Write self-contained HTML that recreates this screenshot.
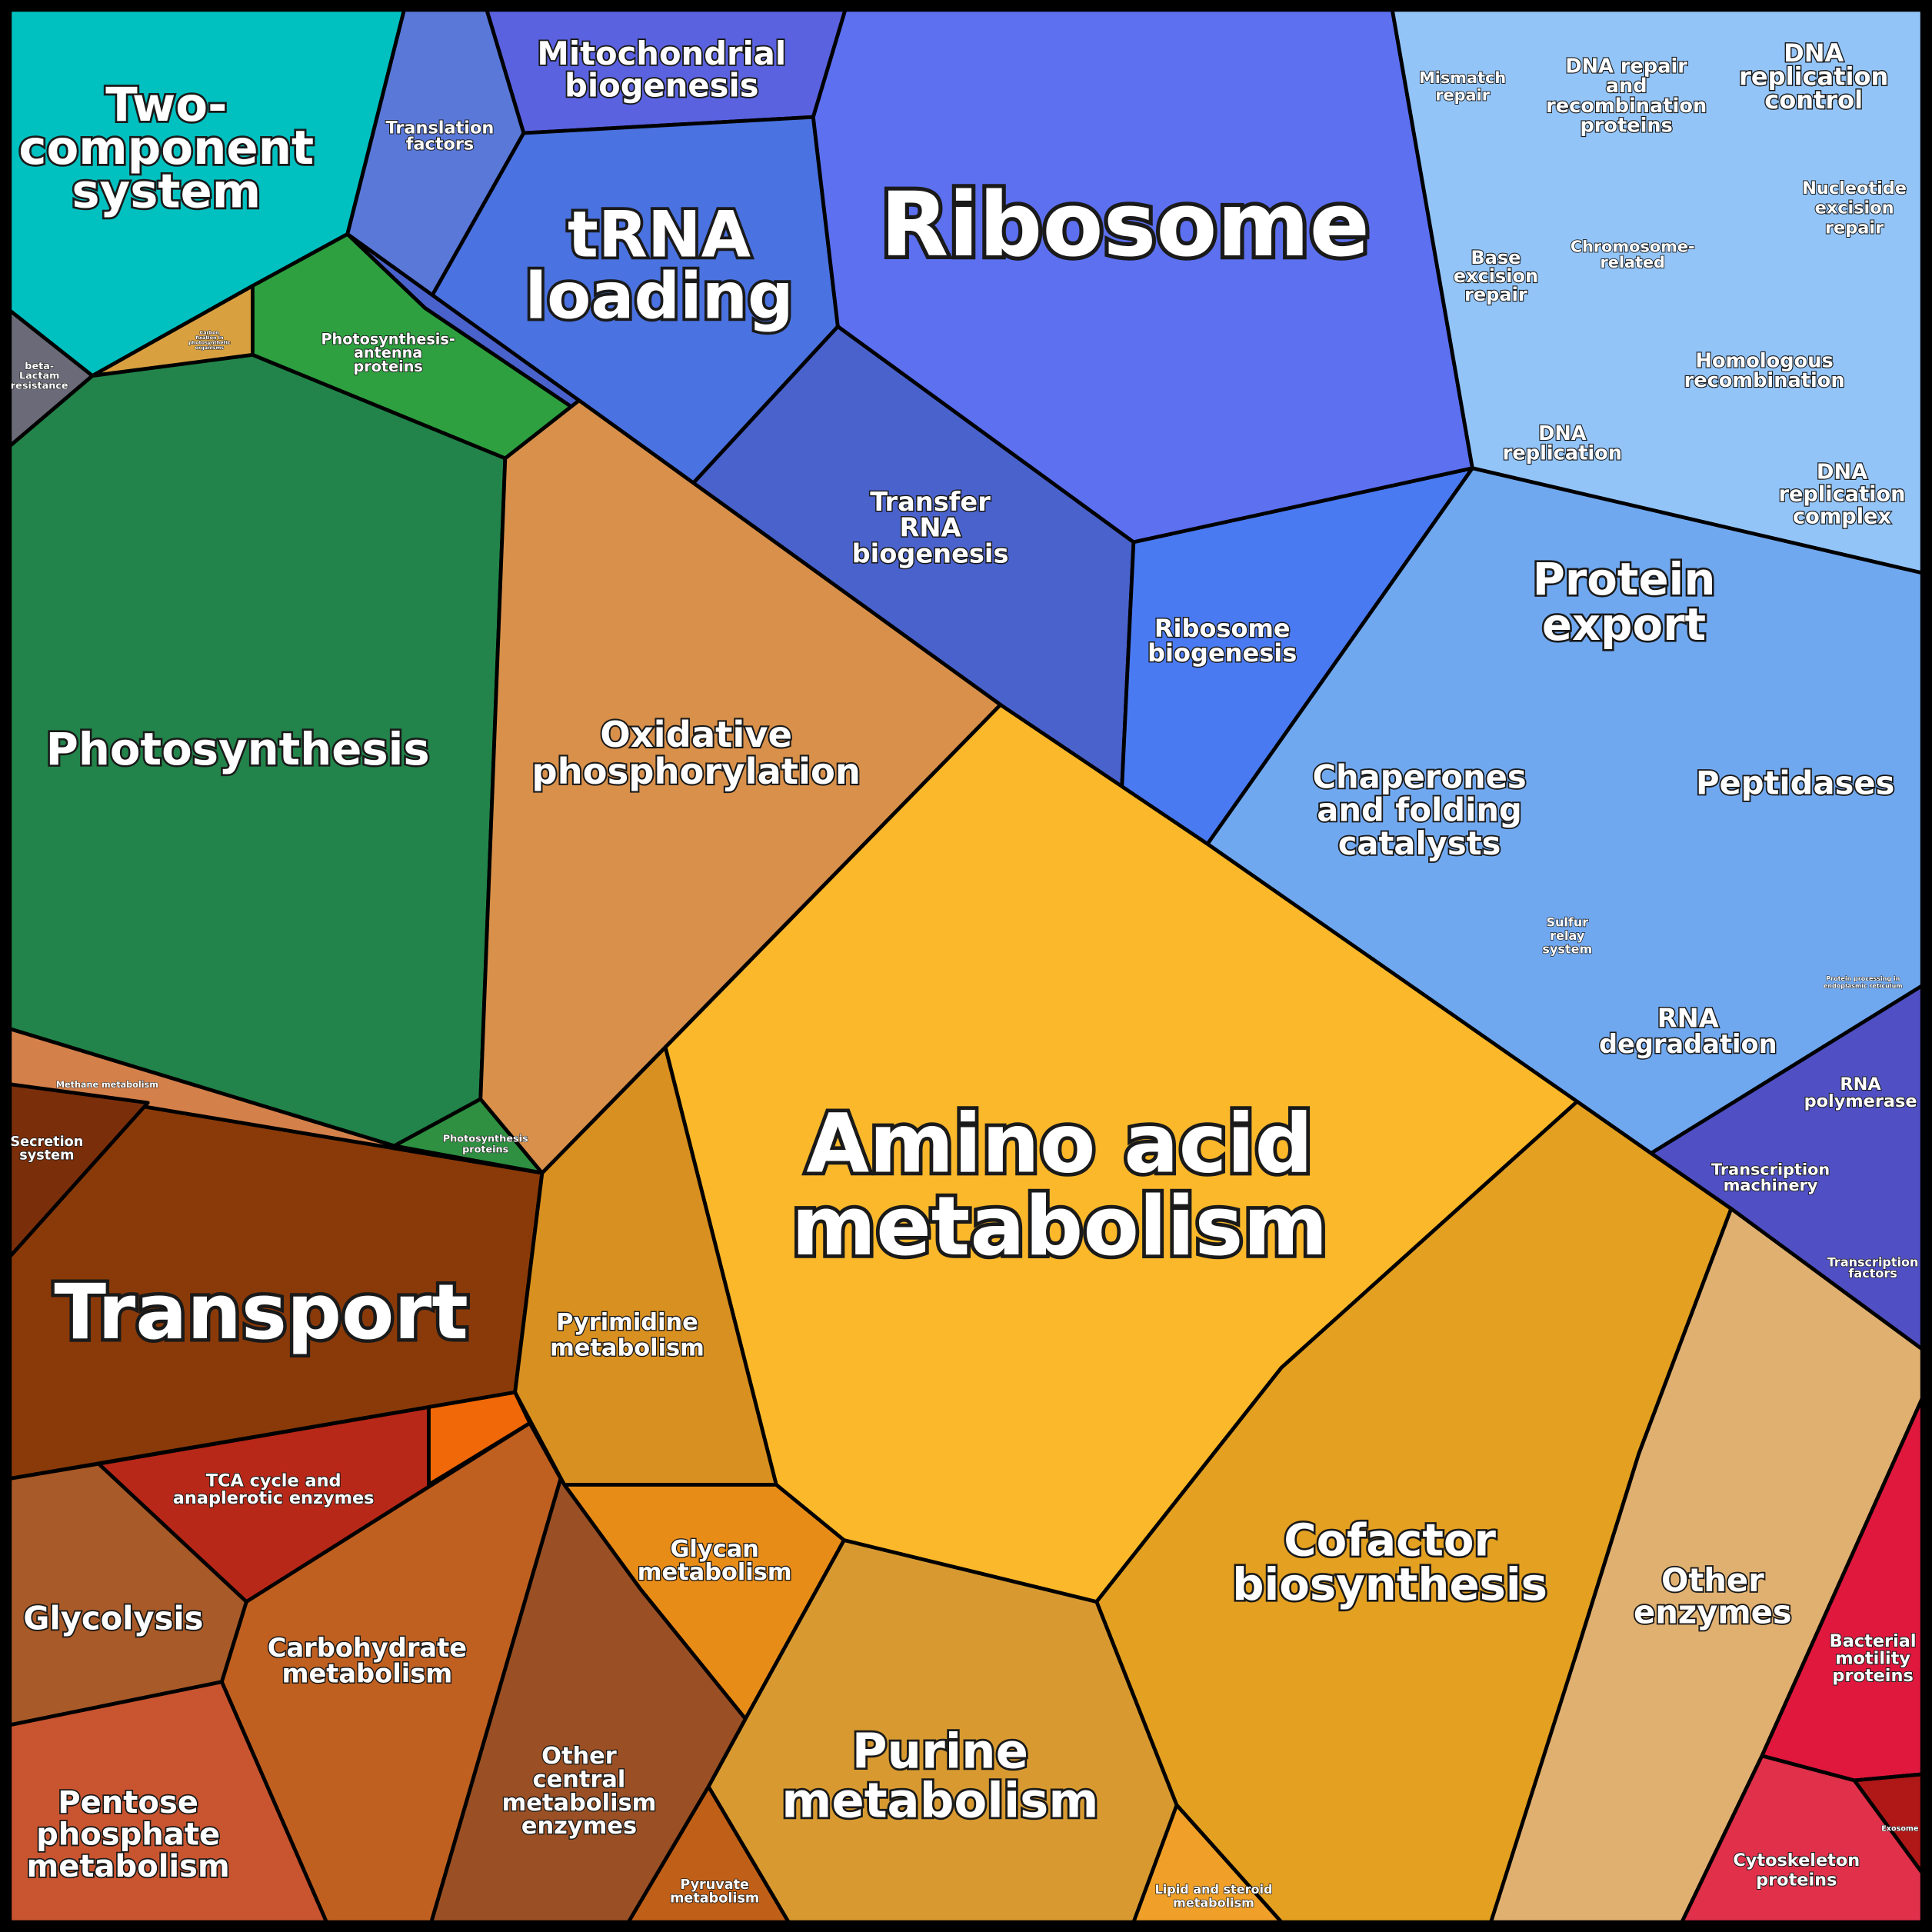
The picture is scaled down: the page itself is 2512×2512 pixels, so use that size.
<!DOCTYPE html>
<html><head><meta charset="utf-8"><style>
html,body{margin:0;padding:0;background:#000;}
svg{display:block;}
text{font-family:"DejaVu Sans","Liberation Sans",sans-serif;font-weight:bold;fill:#fff;paint-order:stroke;stroke:#1a1a1a;text-anchor:middle;dominant-baseline:central;}
</style></head><body>
<svg id="chart" width="2512" height="2512" viewBox="0 0 1568 1568" xmlns="http://www.w3.org/2000/svg">
<rect x="0" y="0" width="1568" height="1568" fill="#000"/>
<g id="cells"></g><g id="labels"></g>
</svg>
<script>
const categories = ["two-component","beta-lactam","carbon-fixation","photosynthesis-antenna","photosynthesis","photosynthesis-proteins","methane","transport","secretion","mito-biogenesis","translation-factors","trna-loading","ribosome","transfer-rna","ribosome-biogenesis","oxidative-phos","dna-block","chaperones","transcription","amino-acid","cofactor","other-enzymes","bacterial-motility","cytoskeleton","exosome","pyrimidine","glycan","purine","lipid","pyruvate","other-central","tca","tca-sliver","glycolysis","carbohydrate","pentose"];
const colors = ["#00c0c0","#6a6a78","#d9a040","#2ea040","#22844a","#2e9040","#d4804a","#8a3a08","#7a2e0a","#5a62e0","#5a78d8","#4a72e0","#5c70f0","#4a62cc","#4a7af2","#d8904a","#92c4f8","#70a8f0","#5050c4","#fbb82a","#e4a020","#e0b070","#e0183e","#e0304a","#b01818","#d89020","#e88c18","#d89a30","#f0a028","#c06018","#9a5024","#b82818","#f06808","#a85a28","#c06020","#c85530"];
const outlines = [
"8,8 328,8 282,190 205,232 75,305 8,252",
"8,252 75,305 8,362",
"75,305 205,232 205,288",
"205,232 282,190 470,325 410,372 205,288",
"8,362 75,305 205,288 410,372 390,892 320,930 8,835",
"320,930 390,892 440,952",
"8,835 320,930 440,952 8,880",
"8,880 440,952 418,1130 8,1200",
"8,880 120,895 8,1020",
"328,8 686,8 660,95 425,108 395,8",
"328,8 395,8 425,108 345,250 282,190",
"425,108 660,95 680,265 560,395 345,250",
"686,8 1130,8 1195,380 920,440 680,265 660,95",
"345,250 560,395 680,265 920,440 910,650 812,572 470,325 282,190",
"920,440 1195,380 980,685 910,650",
"410,372 470,325 812,572 440,952 390,892",
"1130,8 1560,8 1560,465 1195,380",
"1195,380 1560,465 1560,800 1340,936 980,685",
"1340,936 1560,800 1560,1095 1405,981",
"812,572 980,685 1280,894 1040,1110 890,1300 685,1250 630,1205 540,850",
"1280,894 1340,936 1405,981 1330,1180 1280,1340 1230,1560 1040,1560 955,1465 890,1300 1040,1110",
"1405,981 1560,1095 1560,1135 1430,1425 1365,1560 1210,1560 1280,1340 1330,1180",
"1560,1135 1560,1440 1505,1445 1430,1425",
"1430,1425 1505,1445 1560,1440 1560,1560 1365,1560",
"1505,1445 1560,1440 1560,1520",
"540,850 630,1205 458,1205 418,1130 440,952",
"458,1205 630,1205 685,1250 605,1395 520,1290",
"685,1250 890,1300 955,1465 990,1560 640,1560 575,1450 605,1395",
"955,1465 1040,1560 920,1560",
"575,1450 640,1560 510,1560",
"430,1155 458,1205 520,1290 605,1395 575,1450 510,1560 350,1560 455,1200",
"80,1188 418,1130 430,1155 200,1300",
"348,1142 418,1130 430,1155 348,1205",
"8,1200 80,1188 200,1300 180,1365 8,1400",
"200,1300 430,1155 455,1200 350,1560 265,1560 180,1365",
"8,1400 180,1365 265,1560 8,1560"];
const labelText = [
["Two-","component","system"],["Mitochondrial","biogenesis"],["Translation","factors"],["tRNA","loading"],["Ribosome"],
["Mismatch","repair"],["DNA repair","and","recombination","proteins"],["DNA","replication","control"],["Nucleotide","excision","repair"],
["Base","excision","repair"],["Chromosome-","related"],["Homologous","recombination"],["DNA","replication"],["DNA","replication","complex"],
["Protein","export"],["Peptidases"],["Chaperones","and folding","catalysts"],["Transfer","RNA","biogenesis"],["Ribosome","biogenesis"],
["Photosynthesis-","antenna","proteins"],["Photosynthesis"],["Oxidative","phosphorylation"],["Amino acid","metabolism"],
["Sulfur","relay","system"],["RNA","degradation"],["RNA","polymerase"],["Transcription","machinery"],["Transcription","factors"],
["Protein processing in","endoplasmic reticulum"],["Transport"],["Secretion","system"],["Methane metabolism"],["Photosynthesis","proteins"],
["Pyrimidine","metabolism"],["TCA cycle and","anaplerotic enzymes"],["Glycolysis"],["Carbohydrate","metabolism"],["Glycan","metabolism"],
["Other","enzymes"],["Cofactor","biosynthesis"],["Purine","metabolism"],["Other","central","metabolism","enzymes"],
["Pentose","phosphate","metabolism"],["Bacterial","motility","proteins"],["Cytoskeleton","proteins"],["Exosome"],
["Pyruvate","metabolism"],["Lipid and steroid","metabolism"],["beta-","Lactam","resistance"],["Carbon","fixation in","photosynthetic","organisms"]];
const labelAnchor = [
[135,85,35,38],[537,43,26,26],[357,104,13,14],[535,190,50,52],[913,183,0,72],
[1187,63,14,13],[1320,54,16,16],[1472,43,19,20],[1505,153,16,14],
[1214,209,15,15],[1325,200,13,13],[1432,293,16,16],[1268,352,16,16],[1495,383,18,17],
[1318,470,37,36],[1457,635,0,26],[1152,630,27,26],[755,407,21,21],[992,510,20,20],
[315,275,11,12],[193,608,0,36],[565,596,30,29],[860,928,67,66],
[1272,748,11,10],[1370,826,21,21],[1510,880,14,14],[1437,949,13,13],[1520,1024,9,10],
[1512,794,6,5],[212,1065,0,62],[38,927,11,11],[87,880,0,7],[394,924,9,8],
[509,1073,21,19],[222,1202,14,14],[92,1313,0,26],[298,1337,21,21],[580,1257,19,19],
[1390,1282,26,26],[1128,1250,36,36],[763,1421,40,39],[470,1425,19,19],
[104,1463,26,25],[1520,1332,14,14],[1458,1510,16,14],[1542,1484,0,6],
[580,1530,11,11],[985,1533,11,10],[32,297,8,8],[170,270,4,4]];

const NS="http://www.w3.org/2000/svg";
const cells=document.getElementById('cells');
categories.forEach((c,i)=>{
  const p=document.createElementNS(NS,'polygon');
  p.setAttribute('points',outlines[i]);
  p.setAttribute('fill',colors[i]);
  p.setAttribute('stroke','#000');
  p.setAttribute('stroke-width','3');
  p.setAttribute('stroke-linejoin','round');
  
  
  cells.appendChild(p);
});
const labels=document.getElementById('labels');
labelText.forEach((lines,i)=>{
  const [x,y,dy,fs]=labelAnchor[i];
  const t=document.createElementNS(NS,'text');
  t.setAttribute('font-size',fs);
  t.setAttribute('stroke-width',Math.max(0.6,fs*0.09));
  
  
  lines.forEach((ln,j)=>{
    const s=document.createElementNS(NS,'tspan');
    s.setAttribute('x',x);
    s.setAttribute('y',y+j*(dy||fs));
    s.textContent=ln;
    t.appendChild(s);
  });
  labels.appendChild(t);
});
const border=document.createElementNS(NS,'rect');
border.setAttribute('x',4);border.setAttribute('y',4);border.setAttribute('width',1560);border.setAttribute('height',1560);
border.setAttribute('fill','none');border.setAttribute('stroke','#000');border.setAttribute('stroke-width','8');


document.getElementById('chart').appendChild(border);
</script>
</body></html>
